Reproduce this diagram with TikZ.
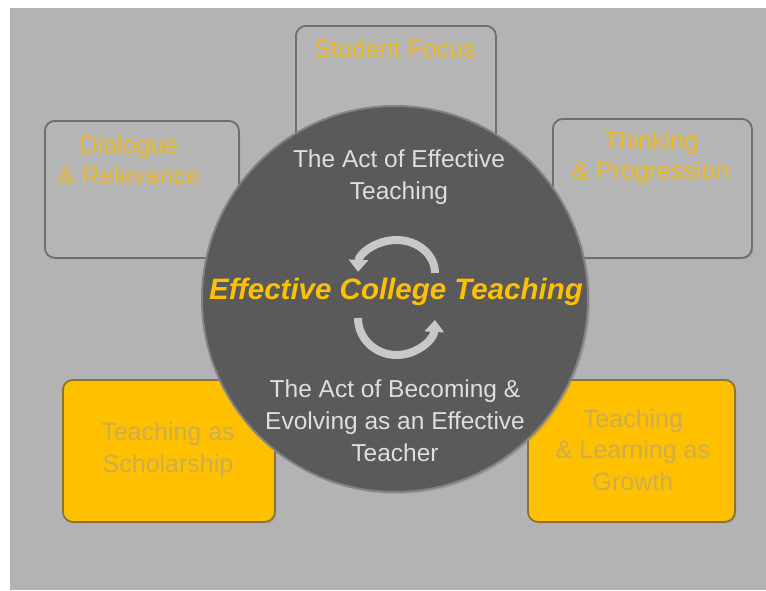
\documentclass[tikz,border=0pt]{standalone}
\usepackage{fontspec}
\setmainfont{Liberation Sans}
\usetikzlibrary{arrows.meta,shadows}
\definecolor{bgc}{RGB}{179,179,179}
\definecolor{boxfill}{RGB}{181,181,181}
\definecolor{boxline}{RGB}{110,110,110}
\definecolor{goldf}{RGB}{255,192,0}
\definecolor{goldline}{RGB}{140,115,50}
\definecolor{goldtext}{RGB}{236,186,40}
\definecolor{tantext}{RGB}{206,172,80}
\definecolor{discf}{RGB}{90,90,90}
\definecolor{discline}{RGB}{130,130,130}
\definecolor{disctext}{RGB}{222,222,222}
\definecolor{arrowc}{RGB}{200,200,200}
\begin{document}
\begin{tikzpicture}[x=1pt,y=-1pt,
  graybox/.style={draw=boxline,line width=1.8pt,fill=boxfill,rounded corners=10pt,
     anchor=north west,inner sep=0pt,
     drop shadow={opacity=0.25,shadow xshift=1.5pt,shadow yshift=-1.5pt}},
  yellowbox/.style={draw=goldline,line width=1.8pt,fill=goldf,rounded corners=10pt,
     anchor=north west,inner sep=0pt,
     drop shadow={opacity=0.3,shadow xshift=1.5pt,shadow yshift=-1.5pt}},
  boxtxt/.style={text=goldtext,font=\fontsize{25}{30.5}\selectfont,align=center,inner sep=0pt},
  tantxt/.style={text=tantext,font=\fontsize{25}{31.5}\selectfont,align=center,inner sep=0pt},
  disctxt/.style={text=disctext,font=\fontsize{24.5}{32}\selectfont,align=center,inner sep=0pt},
  titletxt/.style={text=goldf,font=\fontsize{29.5}{32}\selectfont\bfseries\itshape,inner sep=0pt},
  cyclearrow/.style={draw=arrowc,line width=8pt,-{Triangle[width=19pt,length=12pt]}}
]
\useasboundingbox (0,0) rectangle (766,590);
\fill[white] (0,0) rectangle (766,590);
\fill[bgc] (10,8) rectangle (766,590);

% outer boxes
\node[graybox,minimum width=200pt,minimum height=200pt] (focusbox) at (295,25) {};
\node[graybox,minimum width=194pt,minimum height=137pt] (dialbox) at (44,120) {};
\node[graybox,minimum width=199pt,minimum height=139pt] (thinkbox) at (552,118) {};
\node[yellowbox,minimum width=212pt,minimum height=142pt] (scholbox) at (62,379) {};
\node[yellowbox,minimum width=207pt,minimum height=142pt] (growbox) at (527,379) {};

\node[boxtxt] (focustxt) at (395,49) {Student Focus};
\node[boxtxt] (dialtxt) at (129,160) {Dialogue\\\& Relevance};
\node[boxtxt] (thinktxt) at (651,158) {Thinking\\\& Progression};
\node[tantxt] (scholtxt) at (168,450) {Teaching as\\Scholarship};
\node[tantxt] (growtxt) at (633,450) {Teaching\\\& Learning as\\Growth};

% central disc
\node[circle,draw=discline,line width=2pt,fill=discf,minimum size=386pt,inner sep=0pt,
  drop shadow={opacity=0.3,shadow xshift=2pt,shadow yshift=-2pt}] (disc) at (395,299) {};

\node[disctxt] (toptxt) at (399,177) {The Act of Effective\\Teaching};
\node[disctxt] (bottxt) at (395,421) {The Act of Becoming \&\\Evolving as an Effective\\Teacher};
\node[titletxt] (title) at (396,292) {Effective College Teaching};

% cycle arrows
\draw[cyclearrow] (435,273) arc[start angle=0,end angle=-178,x radius=38.5,y radius=33];
\draw[cyclearrow] (358,318) arc[start angle=180,end angle=3,x radius=38.5,y radius=37];
\end{tikzpicture}
\end{document}
